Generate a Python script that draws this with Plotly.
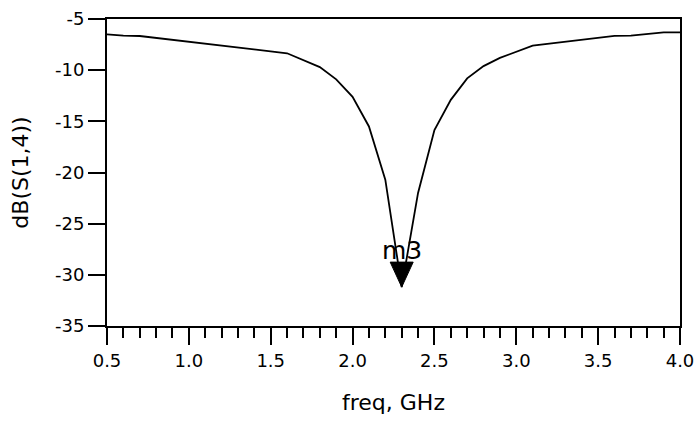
import plotly.graph_objects as go

freq = [0.5, 0.6, 0.7, 1.6, 1.8, 1.9, 2.0, 2.1, 2.2, 2.3, 2.4, 2.5, 2.6, 2.7, 2.8, 2.9, 3.1, 3.6, 3.7, 3.9, 4.0]
db_s14 = [-6.5, -6.62, -6.66, -8.35, -9.7, -10.9, -12.6, -15.5, -20.7, -31.2, -22.0, -15.85, -12.9, -10.8, -9.6, -8.8, -7.6, -6.65, -6.63, -6.3, -6.3]

marker_name = "m3"
marker_freq = 2.3
marker_db = -31.2

x_ticks = [0.5, 1.0, 1.5, 2.0, 2.5, 3.0, 3.5, 4.0]
x_ticklabels = ["0.5", "1.0", "1.5", "2.0", "2.5", "3.0", "3.5", "4.0"]
y_ticks = [-35, -30, -25, -20, -15, -10, -5]
y_ticklabels = ["-35", "-30", "-25", "-20", "-15", "-10", "-5"]

FONT = "DejaVu Sans, Liberation Sans, sans-serif"

fig = go.Figure()
fig.add_trace(go.Scatter(x=freq, y=db_s14, mode="lines",
                         line=dict(color="black", width=1.8), showlegend=False,
                         hoverinfo="skip"))

# marker arrow (triangle pointing down, tip on the data point)
fig.add_shape(type="path", xref="x", yref="y", xsizemode="pixel", ysizemode="pixel",
              xanchor=marker_freq, yanchor=marker_db,
              path="M -11.5 25 L 11.5 25 L 0 0 Z",
              fillcolor="black", line=dict(color="black", width=1))
fig.add_annotation(x=marker_freq, y=marker_db, text=marker_name, showarrow=False,
                   xanchor="center", yanchor="bottom", yshift=20,
                   font=dict(family=FONT, size=25, color="black"))

fig.update_layout(
    width=698, height=421,
    margin=dict(l=107, r=18, t=19, b=95, autoexpand=False),
    paper_bgcolor="white", plot_bgcolor="white",
    font=dict(family=FONT, size=18, color="black"),
    xaxis=dict(range=[0.5, 4.0], tickvals=x_ticks, ticktext=x_ticklabels,
               automargin=False,
               showgrid=False, zeroline=False, showline=True, linecolor="black",
               linewidth=2, mirror=True, ticks="outside", ticklen=17, tickwidth=2,
               tickcolor="black", tickfont=dict(family=FONT, size=18),
               minor=dict(dtick=0.1, tick0=0.5, ticks="outside", ticklen=10,
                          tickwidth=2, tickcolor="black", showgrid=False),
               title=dict(text="freq, GHz", standoff=25,
                          font=dict(family=FONT, size=22))),
    yaxis=dict(range=[-35, -5], tickvals=y_ticks, ticktext=y_ticklabels,
               automargin=False,
               showgrid=False, zeroline=False, showline=True, linecolor="black",
               linewidth=2, mirror=True, ticks="outside", ticklen=17, tickwidth=2,
               tickcolor="black", tickfont=dict(family=FONT, size=18),
               title=dict(text="dB(S(1,4))", standoff=20,
                          font=dict(family=FONT, size=22))),
)

fig.write_html("out.html")
